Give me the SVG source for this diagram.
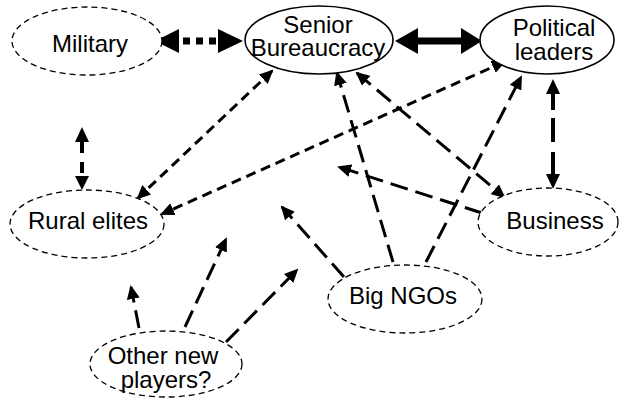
<svg xmlns="http://www.w3.org/2000/svg" width="621" height="402" viewBox="0 0 621 402">
<style>
.bg{fill:#fff}
ellipse{fill:#fff;stroke:#000}
.solid{stroke-width:1.6}
.dash{stroke-width:1.3;stroke-dasharray:6 4}
text{font-family:"Liberation Sans",Arial,sans-serif;font-size:24px;text-anchor:middle;fill:#000}
.c{fill:none;stroke:#000;stroke-width:3}
.sd{stroke-dasharray:10 6}
.ld{stroke-dasharray:18 8}
.head{fill:#000}
</style>
<defs>
<marker id="ah" viewBox="0 0 14 13" refX="12" refY="6.5" markerWidth="14" markerHeight="13" markerUnits="userSpaceOnUse" orient="auto-start-reverse">
<path d="M0,0 L14,6.5 L0,13 z" fill="#000"/>
</marker>
</defs>
<rect class="bg" x="0" y="0" width="621" height="402"/>
<g id="connectors">
<!-- Military <-> Senior -->
<line x1="183" y1="41" x2="218" y2="41" stroke="#000" stroke-width="7" stroke-dasharray="7 6"/>
<polygon class="head" points="155,41 179,29 179,53"/>
<polygon class="head" points="243,41 218,29 218,53"/>
<!-- Senior <-> Political -->
<line x1="416" y1="41" x2="463" y2="41" stroke="#000" stroke-width="7"/>
<polygon class="head" points="395,41 418,28 418,54"/>
<polygon class="head" points="482,41 461,28 461,54"/>
<!-- vertical above Rural elites -->
<line x1="82" y1="142" x2="82" y2="177" stroke="#000" stroke-width="4" stroke-dasharray="11 9"/>
<polygon class="head" points="82,127 75,142 89,142"/>
<polygon class="head" points="82,190 75,176 89,176"/>
<!-- Political <-> Business -->
<line x1="553" y1="93" x2="553" y2="175" stroke="#000" stroke-width="4" stroke-dasharray="17 8 24 10 30"/>
<polygon class="head" points="553,79 546,94 560,94"/>
<polygon class="head" points="553,189 546,174 560,174"/>
<!-- Senior <-> Rural -->
<line class="c sd" x1="272" y1="71" x2="138" y2="198" marker-start="url(#ah)" marker-end="url(#ah)"/>
<!-- Political <-> Rural -->
<line class="c sd" x1="504" y1="62" x2="162" y2="214" marker-start="url(#ah)" marker-end="url(#ah)"/>
<!-- Senior <-> Business -->
<line class="c ld" x1="357" y1="73" x2="504" y2="197" marker-start="url(#ah)" marker-end="url(#ah)"/>
<!-- NGO -> Senior -->
<line class="c ld" x1="393" y1="262" x2="337" y2="73" marker-end="url(#ah)"/>
<!-- NGO -> Political -->
<line class="c ld" x1="426" y1="262" x2="521" y2="77" marker-end="url(#ah)"/>
<!-- Business -> centre -->
<line class="c ld" x1="482" y1="213" x2="339" y2="167" marker-end="url(#ah)"/>
<!-- NGO -> centre left -->
<line class="c ld" x1="344" y1="277" x2="282" y2="207" marker-end="url(#ah)"/>
<!-- Other -> up -->
<line class="c ld" x1="185" y1="327" x2="226" y2="239" marker-end="url(#ah)"/>
<line class="c ld" x1="226" y1="342" x2="297" y2="270" marker-end="url(#ah)"/>
<line class="c ld" x1="139" y1="328" x2="131" y2="287" marker-end="url(#ah)"/>
</g>
<g id="military">
<ellipse class="dash" cx="87" cy="41" rx="75" ry="34"/>
<text x="90" y="52">Military</text>
</g>
<g id="senior-bureaucracy">
<ellipse class="solid" cx="319" cy="40" rx="74" ry="34"/>
<text x="318" y="33">Senior</text>
<text x="318" y="56">Bureaucracy</text>
</g>
<g id="political-leaders">
<ellipse class="solid" cx="547" cy="40" rx="67" ry="34"/>
<text x="554" y="36">Political</text>
<text x="554" y="60">leaders</text>
</g>
<g id="rural-elites">
<ellipse class="dash" cx="87" cy="224" rx="77" ry="34"/>
<text x="88" y="229">Rural elites</text>
</g>
<g id="business">
<ellipse class="dash" cx="548" cy="222" rx="70" ry="34"/>
<text x="555" y="229">Business</text>
</g>
<g id="big-ngos">
<ellipse class="dash" cx="405" cy="299" rx="77" ry="34"/>
<text x="403" y="304">Big NGOs</text>
</g>
<g id="other-new-players">
<ellipse class="dash" cx="166" cy="364" rx="76" ry="33"/>
<text x="163" y="364">Other new</text>
<text x="166" y="388">players?</text>
</g>
</svg>
